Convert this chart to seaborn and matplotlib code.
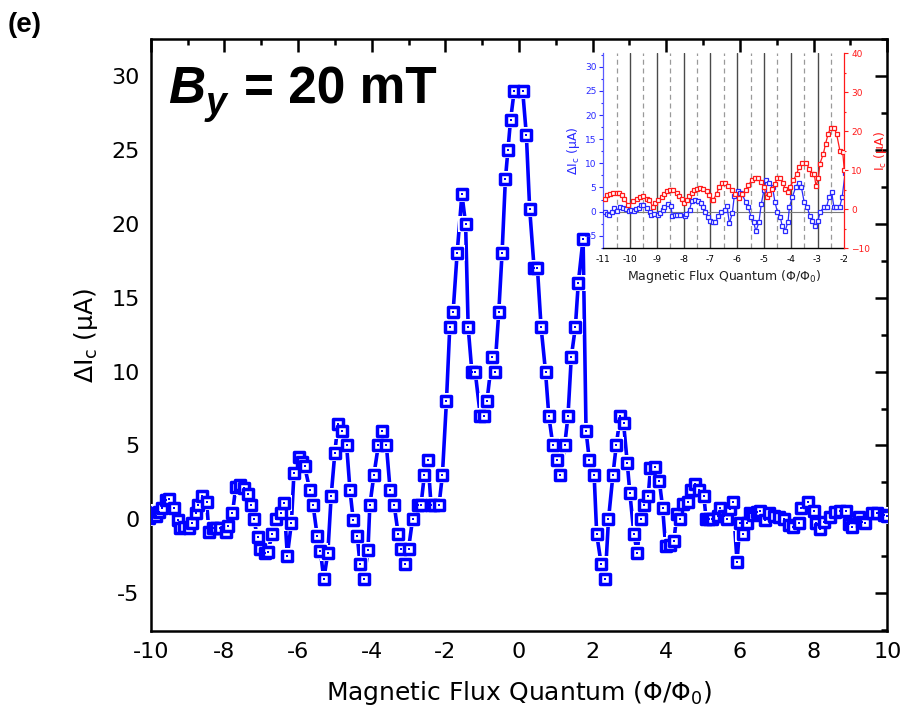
import matplotlib
matplotlib.use("Agg")
import matplotlib.pyplot as plt
from matplotlib.ticker import MultipleLocator
import seaborn as sns
import pandas as pd

# ---------------- data ----------------
flux = [-10.95, -10.85, -10.78, -10.69, -10.59, -10.48, -10.38, -10.25, -10.15, -10.05,
        -9.96, -9.86, -9.77, -9.68, -9.59, -9.5, -9.38, -9.27, -9.2, -9.1,
        -8.96, -8.87, -8.78, -8.72, -8.6, -8.48, -8.42, -8.32, -8.23, -8.12,
        -7.96, -7.9, -7.78, -7.69, -7.57, -7.46, -7.37, -7.29, -7.2, -7.1,
        -7.03, -6.91, -6.82, -6.7, -6.6, -6.47, -6.38, -6.29, -6.18, -6.11,
        -5.98, -5.9, -5.82, -5.68, -5.59, -5.48, -5.39, -5.3, -5.19, -5.1,
        -5.0, -4.92, -4.8, -4.68, -4.59, -4.5, -4.39, -4.32, -4.21, -4.1,
        -4.05, -3.94, -3.82, -3.71, -3.6, -3.5, -3.39, -3.28, -3.2, -3.1,
        -3.0, -2.89, -2.75, -2.66, -2.57, -2.47, -2.39, -2.3, -2.17, -2.08,
        -1.97, -1.88, -1.79, -1.68, -1.55, -1.45, -1.38, -1.28, -1.19, -1.05,
        -0.96, -0.87, -0.73, -0.66, -0.55, -0.46, -0.37, -0.30, -0.23, -0.13,
        0.10, 0.20, 0.29, 0.41, 0.50, 0.60, 0.72, 0.81, 0.92, 1.03,
        1.12, 1.24, 1.33, 1.42, 1.53, 1.61, 1.74, 1.82, 1.91, 2.04,
        2.11, 2.23, 2.34, 2.43, 2.55, 2.64, 2.75, 2.84, 2.94, 3.01,
        3.12, 3.21, 3.3, 3.39, 3.51, 3.57, 3.7, 3.81, 3.9, 3.98,
        4.1, 4.21, 4.28, 4.38, 4.45, 4.58, 4.66, 4.79, 4.9, 5.02,
        5.08, 5.15, 5.25, 5.39, 5.47, 5.56, 5.65, 5.72, 5.81, 5.92,
        6.0, 6.08, 6.19, 6.26, 6.35, 6.45, 6.55, 6.69, 6.8, 6.92,
        7.05, 7.19, 7.32, 7.44, 7.59, 7.67, 7.86, 8.0, 8.07, 8.18,
        8.29, 8.45, 8.57, 8.72, 8.88, 8.97, 9.05, 9.22, 9.3, 9.4,
        9.58, 9.72, 9.9, 10.0]
delta_ic = [0.0, -0.5, -0.7, 0.0, 0.7, 0.2, 0.9, 0.7, 0.5, 0.1,
            0.4, 0.2, 0.5, 0.8, 1.3, 1.35, 0.75, -0.05, -0.6, -0.5,
            -0.6, -0.25, 0.4, 0.95, 1.55, 1.15, -0.85, -0.6, -0.6, -0.6,
            -0.85, -0.45, 0.4, 2.2, 2.35, 2.1, 1.75, 0.95, 0.0, -1.2,
            -2.0, -2.25, -2.2, -1.0, 0.0, 0.4, 1.1, -2.45, -0.25, 3.15,
            4.2, 3.9, 3.6, 2.0, 0.95, -1.1, -2.15, -4.05, -2.25, 1.6,
            4.5, 6.45, 6.0, 5.0, 2.0, -0.05, -1.1, -3.0, -4.05, -2.05,
            0.95, 3.0, 5.0, 6.0, 5.0, 2.0, 1.0, -1.0, -2.0, -3.0,
            -2.0, 0.0, 1.0, 1.0, 3.0, 4.0, 1.0, 1.0, 1.0, 3.0,
            8.0, 13.0, 14.0, 18.0, 22.0, 20.0, 13.0, 10.0, 10.0, 7.0,
            7.0, 8.0, 11.0, 10.0, 14.0, 18.0, 23.0, 25.0, 27.0, 29.0,
            29.0, 26.0, 21.0, 17.0, 17.0, 13.0, 10.0, 7.0, 5.0, 4.0,
            3.0, 5.0, 7.0, 11.0, 13.0, 16.0, 19.0, 6.0, 4.0, 3.0,
            -1.0, -3.0, -4.0, 0.0, 3.0, 5.0, 7.0, 6.5, 3.8, 1.8,
            -1.0, -2.25, 0.0, 0.95, 1.6, 3.5, 3.55, 2.6, 0.8, -1.8,
            -1.7, -1.45, 0.35, 0.0, 1.05, 1.15, 2.0, 2.4, 2.0, 1.6,
            0.0, 0.0, 0.05, 0.2, 0.8, 0.2, 0.05, 0.7, 1.2, -2.85,
            -0.25, -1.0, -0.25, 0.45, 0.3, 0.5, 0.55, -0.05, 0.4, 0.2,
            0.15, 0.05, -0.4, -0.5, -0.25, 0.75, 1.2, 0.55, -0.25, -0.65,
            -0.15, 0.15, 0.5, 0.55, 0.55, -0.3, -0.5, 0.15, -0.2, -0.25,
            0.4, 0.4, 0.3, 0.2]

flux_ic = [-10.94, -10.85, -10.75, -10.63, -10.5, -10.4, -10.32, -10.23, -10.07, -9.88,
           -9.75, -9.63, -9.5, -9.38, -9.28, -9.16, -9.07, -8.95, -8.82, -8.72,
           -8.63, -8.51, -8.39, -8.26, -8.16, -8.07, -7.99, -7.89, -7.79, -7.7,
           -7.6, -7.49, -7.39, -7.27, -7.14, -7.04, -6.95, -6.89, -6.77, -6.67,
           -6.58, -6.46, -6.33, -6.21, -6.08, -5.93, -5.83, -5.68, -5.58, -5.46,
           -5.34, -5.21, -5.11, -5.0, -4.9, -4.8, -4.69, -4.59, -4.5, -4.4,
           -4.3, -4.21, -4.12, -4.03, -3.9, -3.78, -3.68, -3.57, -3.43, -3.31,
           -3.22, -3.12, -3.06, -2.97, -2.91, -2.78, -2.7, -2.6, -2.51, -2.39,
           -2.29, -2.16, -2.06, -2.0]
ic_vals = [2.6, 3.6, 4.0, 4.2, 4.2, 4.2, 3.6, 2.7, 1.1, 2.1,
           2.7, 3.2, 3.3, 2.7, 2.5, 0.7, 1.5, 2.3, 3.2, 4.0,
           4.7, 4.9, 4.9, 4.2, 3.5, 2.6, 1.7, 2.3, 3.4, 4.2,
           4.9, 5.3, 5.5, 5.1, 4.6, 3.6, 2.4, 2.4, 4.0, 5.7,
           6.8, 6.8, 6.0, 4.9, 4.0, 2.9, 4.0, 4.9, 6.2, 7.4,
           7.9, 7.9, 7.0, 5.7, 3.2, 4.0, 5.3, 6.6, 7.9, 7.9,
           6.8, 5.3, 4.5, 5.7, 7.4, 9.1, 10.9, 11.9, 11.9, 10.4,
           9.0, 9.0, 6.0, 7.9, 11.7, 14.3, 16.8, 19.4, 20.9, 20.9,
           19.4, 14.9, 14.7, 10.0]

main_xticks = [-10, -8, -6, -4, -2, 0, 2, 4, 6, 8, 10]
main_yticks = [-5, 0, 5, 10, 15, 20, 25, 30]
inset_xticks = [-11, -10, -9, -8, -7, -6, -5, -4, -3, -2]
inset_solid = [-10, -9, -8, -7, -6, -5, -4, -3]
inset_dashed = [-10.5, -9.5, -8.5, -7.5, -6.5, -5.5, -4.5, -3.5, -2.5]

df = pd.DataFrame({"flux": flux, "dIc": delta_ic})
df_ic = pd.DataFrame({"flux": flux_ic, "Ic": ic_vals})

# ---------------- style ----------------
sns.set_style("white")
plt.rcParams["font.family"] = ["DejaVu Sans"]
plt.rcParams["mathtext.default"] = "regular"
plt.rcParams["axes.edgecolor"] = "black"
plt.rcParams["text.color"] = "black"
plt.rcParams["axes.labelcolor"] = "black"
plt.rcParams["xtick.color"] = "black"
plt.rcParams["ytick.color"] = "black"

BLUE = "#0000ff"
fig = plt.figure(figsize=(9.03, 7.28), dpi=100)
ax = fig.add_axes([150.7 / 903, 1 - 631 / 728, (887.3 - 150.7) / 903, (631 - 39) / 728])

# connecting line
sns.lineplot(data=df, x="flux", y="dIc", ax=ax, color=BLUE, lw=2.6,
             estimator=None, sort=False, errorbar=None, zorder=2)
# white halo (gap between line and symbol)
sns.scatterplot(data=df, x="flux", y="dIc", ax=ax, marker="s", s=11.0 ** 2,
                color="white", linewidth=0, zorder=3)
# hollow squares
sns.scatterplot(data=df, x="flux", y="dIc", ax=ax, marker="s", s=6.9 ** 2,
                facecolor="white", edgecolor=BLUE, linewidth=2.5, zorder=4)
# centre dots
sns.scatterplot(data=df, x="flux", y="dIc", ax=ax, marker="s", s=1.6 ** 2,
                color=BLUE, linewidth=0, zorder=5)

ax.set_xlim(-10, 10)
ax.set_ylim(-7.55, 32.5)
ax.set_xticks(main_xticks)
ax.set_yticks(main_yticks)
ax.set_xticklabels([str(t) for t in main_xticks])
ax.set_yticklabels([str(t) for t in main_yticks])
ax.xaxis.set_minor_locator(MultipleLocator(1))
ax.yaxis.set_minor_locator(MultipleLocator(2.5))
ax.tick_params(which="both", direction="in", top=True, right=True, width=1.8,
               labelsize=16, pad=8, colors="black")
ax.tick_params(which="major", length=9)
ax.tick_params(which="minor", length=4)
for sp in ax.spines.values():
    sp.set_linewidth(1.8)
    sp.set_color("black")
ax.set_xlabel("Magnetic Flux Quantum ($\\Phi/\\Phi_0$)", fontsize=18, labelpad=12,
              color="black")
ax.set_ylabel("ΔI$_c$ (μA)", fontsize=18, labelpad=8, color="black")

# title and panel label
fig.text(8 / 903, 1 - 32 / 728, "(e)", fontsize=20, fontweight="bold",
         family="Liberation Sans", color="black")
fig.text(168 / 903, 1 - 103 / 728, "B", fontsize=37, fontweight="bold",
         style="italic", family="Liberation Sans", color="black")
fig.text(206 / 903, 1 - 114 / 728, "y", fontsize=27, fontweight="bold",
         style="italic", family="Liberation Sans", color="black")
fig.text(244 / 903, 1 - 103 / 728, "= 20 mT", fontsize=37, fontweight="bold",
         family="Liberation Sans", color="black")

# ---------------- inset ----------------
IBLUE = "#2a2aff"
IRED = "#ff1a1a"
ax2 = fig.add_axes([603.3 / 903, 1 - 248.3 / 728, 241 / 903, 195 / 728])
ax2.set_facecolor("white")
for v in inset_solid:
    ax2.axvline(v, color="#4a4a4a", lw=1.0, zorder=0)
for v in inset_dashed:
    ax2.axvline(v, color="#9a9a9a", lw=0.9, ls=(0, (4, 3)), zorder=0)
ax2.axhline(0, color="#7a7a7a", lw=0.8, zorder=0)

sns.lineplot(data=df, x="flux", y="dIc", ax=ax2, color=IBLUE, lw=0.9,
             estimator=None, sort=False, errorbar=None, marker="s", ms=3.4,
             mfc="white", mec=IBLUE, mew=0.9, zorder=3)
ax2.set_xlim(-11, -2)
ax2.set_ylim(-7.6, 32.8)
ax2.set_xticks(inset_xticks)
ax2.set_xticklabels([str(t) for t in inset_xticks])
ax2.set_yticks([-5, 0, 5, 10, 15, 20, 25, 30])
ax2.yaxis.set_minor_locator(MultipleLocator(2.5))
ax2.tick_params(axis="x", which="major", direction="out", length=3, width=0.8,
                labelsize=6.5, pad=2, colors="black")
ax2.tick_params(axis="y", which="both", direction="out", width=0.8,
                labelsize=6.5, pad=2, colors=IBLUE)
ax2.tick_params(axis="y", which="major", length=3)
ax2.tick_params(axis="y", which="minor", length=1.5)
ax2.spines["top"].set_visible(False)
ax2.spines["right"].set_visible(False)
ax2.spines["left"].set_color("#5a5aff")
ax2.spines["left"].set_linewidth(0.9)
ax2.spines["bottom"].set_color("black")
ax2.spines["bottom"].set_linewidth(1.0)
ax2.set_xlabel("Magnetic Flux Quantum ($\\Phi/\\Phi_0$)", fontsize=9,
               color="#222222", labelpad=3)
ax2.set_ylabel("ΔI$_c$ (μA)", fontsize=9, color=IBLUE, labelpad=1)

ax3 = ax2.twinx()
sns.lineplot(data=df_ic, x="flux", y="Ic", ax=ax3, color=IRED, lw=0.9,
             estimator=None, sort=False, errorbar=None, marker="s", ms=3.4,
             mfc="white", mec=IRED, mew=0.9, zorder=3)
ax3.set_ylim(-10, 40)
ax3.set_xlim(-11, -2)
ax3.set_yticks([-10, 0, 10, 20, 30, 40])
ax3.yaxis.set_minor_locator(MultipleLocator(5))
ax3.tick_params(axis="y", which="both", direction="out", width=0.8,
                labelsize=6.5, pad=2, colors=IRED)
ax3.tick_params(axis="y", which="major", length=3)
ax3.tick_params(axis="y", which="minor", length=1.5)
for s in ["top", "left", "bottom"]:
    ax3.spines[s].set_visible(False)
ax3.spines["right"].set_color(IRED)
ax3.spines["right"].set_linewidth(0.9)
ax3.set_ylabel("I$_c$ (μA)", fontsize=9, color=IRED, labelpad=1)
ax3.set_xlabel("")

fig.savefig("out.png", dpi=100)
